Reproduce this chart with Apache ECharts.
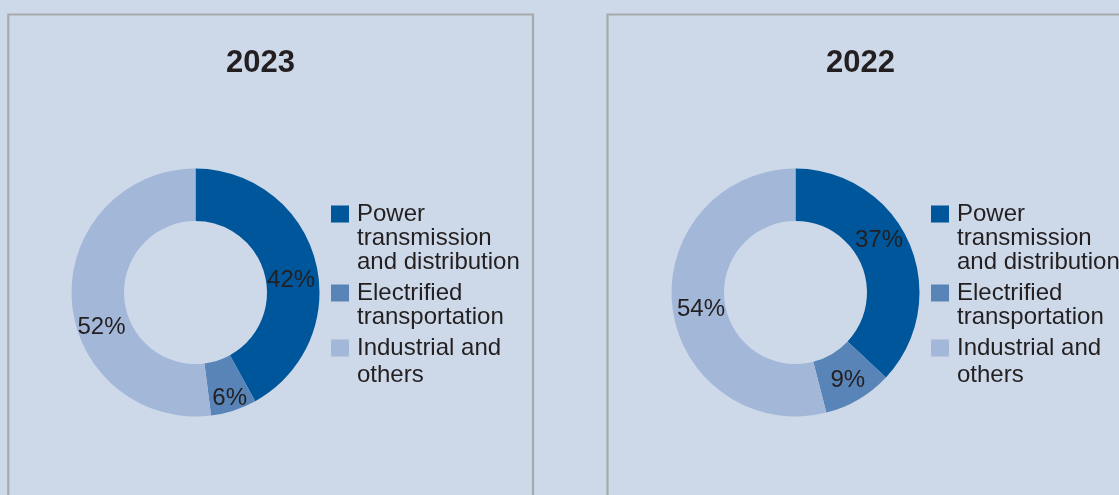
<!DOCTYPE html>
<html>
<head>
<meta charset="utf-8">
<script src="https://cdn.jsdelivr.net/npm/echarts@6/dist/echarts.min.js"></script>
<style>
html,body{margin:0;padding:0;background:#cdd9e9;}
#chart{width:1119px;height:495px;}
</style>
</head>
<body>
<div id="chart"></div>
<script>
// ---- data ----
var years = ['2023', '2022'];
var categories = ['Power\ntransmission\nand distribution', 'Electrified\ntransportation', 'Industrial and\nothers'];
var values2023 = [42, 6, 52];
var values2022 = [37, 9, 54];
var colors = ['#00569a', '#5884b8', '#a3b7d8'];

// ---- layout / style (not data) ----
var FONT = '"Liberation Sans", Arial, Helvetica, sans-serif';
var TEXT = '#231f20';
var centers = [[195.5, 292.5], [795.5, 292.5]];
var labelShift = [
  [[-2, 13], [3, 10], [6.5, 29]],
  [[-9, -12.5], [1, 1], [5.5, 4.5]]
];
var legendTops = [202, 281, 334.5];
var legendHeights = [72, 48, 54];
var legendLineH = [24, 24, 27];
var legendIcons = [
  'path://M0,3.5h18v17h-18z M0,0h0.01 M20.99,72h0.01',
  'path://M0,3.5h18v17h-18z M0,0h0.01 M20.99,48h0.01',
  'path://M0,5h18v17h-18z M0,0h0.01 M20.99,54h0.01'
];
var legendLefts = [331, 931];

var seriesValues = [values2023, values2022];

var chart = echarts.init(document.getElementById('chart'), null, {renderer: 'canvas'});

var series = seriesValues.map(function (vals, si) {
  return {
    type: 'pie',
    center: centers[si],
    radius: [71.5, 124],
    startAngle: 90,
    clockwise: true,
    avoidLabelOverlap: false,
    silent: true,
    itemStyle: {borderWidth: 0},
    label: {
      show: true,
      position: 'inside',
      formatter: '{c}%',
      color: TEXT,
      fontSize: 24,
      fontFamily: FONT,
      textBorderWidth: 0
    },
    labelLine: {show: false},
    labelLayout: function (p) {
      var s = labelShift[p.seriesIndex][p.dataIndex];
      return {dx: s[0], dy: s[1]};
    },
    emphasis: {disabled: true},
    data: vals.map(function (v, i) {
      return {name: categories[i], value: v, itemStyle: {color: colors[i]}};
    })
  };
});

var legends = [];
legendLefts.forEach(function (lx) {
  categories.forEach(function (c, i) {
    legends.push({
      left: lx,
      top: legendTops[i],
      padding: 0,
      orient: 'vertical',
      itemWidth: 21,
      itemHeight: legendHeights[i],
      selectedMode: false,
      itemStyle: {borderWidth: 0},
      textStyle: {color: TEXT, fontSize: 24, lineHeight: legendLineH[i], fontFamily: FONT},
      data: [{name: c, icon: legendIcons[i]}]
    });
  });
});

var titleLefts = [226, 826];
var titles = years.map(function (y, i) {
  return {
    text: y,
    left: titleLefts[i],
    top: 48,
    padding: 0,
    textStyle: {color: TEXT, fontSize: 31, fontWeight: 'bold', fontFamily: FONT}
  };
});

chart.setOption({
  backgroundColor: '#cdd9e9',
  animation: false,
  title: titles,
  legend: legends,
  graphic: [
    {type: 'rect', shape: {x: 8.3, y: 14.5, width: 524.7, height: 600}, style: {fill: 'none', stroke: '#a7aaad', lineWidth: 2.2}, silent: true, z: -1},
    {type: 'rect', shape: {x: 607.5, y: 14.5, width: 700, height: 600}, style: {fill: 'none', stroke: '#a7aaad', lineWidth: 2.2}, silent: true, z: -1}
  ],
  series: series
});
</script>
</body>
</html>
